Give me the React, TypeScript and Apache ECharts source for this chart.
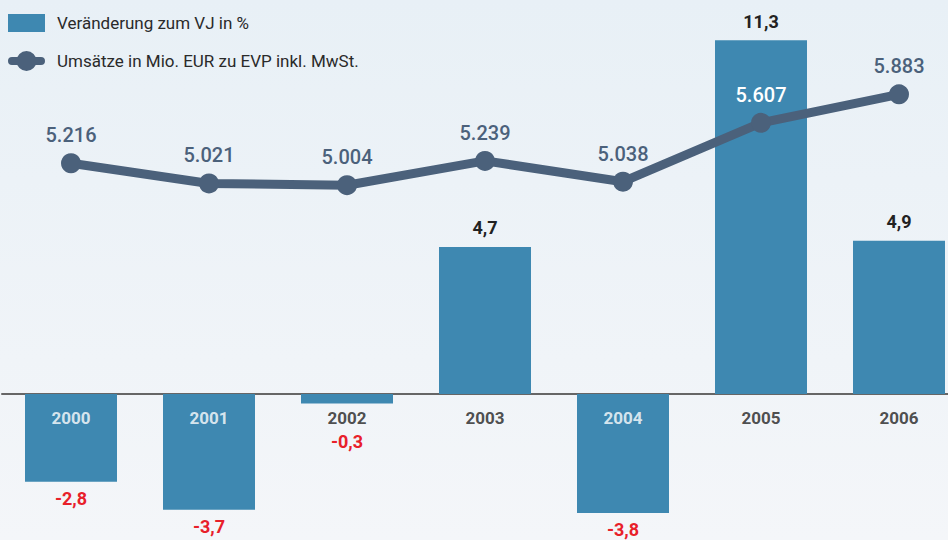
import React, { useEffect, useRef } from "react";
import * as echarts from "echarts";

const years = ["2000", "2001", "2002", "2003", "2004", "2005", "2006"];
const changePct = [-2.8, -3.7, -0.3, 4.7, -3.8, 11.3, 4.9];
const salesMio = [5216, 5021, 5004, 5239, 5038, 5607, 5883];
const barName = "Veränderung zum VJ in %";
const lineName = "Umsätze in Mio. EUR zu EVP inkl. MwSt.";

const BAR = "#3e88b1";
const LINE = "#4b617b";
const FONT = "Roboto";
const LINE_ICON =
  "path://M4,6 L33,6 A4,4 0 0 1 33,14 L4,14 A4,4 0 0 1 4,6 Z M18.5,0 A10,10 0 1 1 18.5,20 A10,10 0 1 1 18.5,0 Z";

export default function App() {
  const ref = useRef<HTMLDivElement>(null);
  useEffect(() => {
    document.body.style.margin = "0";
    const chart = echarts.init(ref.current!, null, { renderer: "svg" });
    const fmtPct = (v: number) => v.toFixed(1).replace(".", ",");
    const fmtSales = (v: number) => (v / 1000).toFixed(3);
    chart.setOption({
      animation: false,
      backgroundColor: new echarts.graphic.LinearGradient(0, 0, 0, 1, [
        { offset: 0, color: "#e8f0f6" },
        { offset: 1, color: "#f4f6f9" },
      ]),
      textStyle: { fontFamily: FONT },
      legend: {
        orient: "vertical",
        left: 3,
        top: 9,
        padding: 5,
        itemWidth: 37,
        itemHeight: 20,
        itemGap: 19,
        textStyle: { fontSize: 17, color: "#2a2a2a", fontFamily: FONT, padding: [0, 0, 0, 7] },
        data: [
          { name: barName, icon: "path://M0,1 L37,1 L37,19 L0,19 Z" },
          { name: lineName, icon: LINE_ICON },
        ],
      },
      grid: { left: 2, width: 966, top: 18.4, height: 500.8, outerBoundsMode: "none" },
      xAxis: {
        type: "category",
        data: years,
        axisLine: { onZero: true, lineStyle: { color: "#666", width: 2 } },
        axisTick: { show: false },
        axisLabel: { show: false },
      },
      yAxis: [
        { type: "value", min: -4, max: 12, show: false, splitLine: { show: false } },
        { type: "value", min: 1.774, max: 6.617, show: false, splitLine: { show: false } },
      ],
      series: [
        {
          name: barName,
          type: "bar",
          barWidth: 92,
          itemStyle: { color: BAR },
          data: changePct.map((v) => ({
            value: v,
            label: {
              show: true,
              position: v < 0 ? "bottom" : "top",
              distance: v < 0 ? (v > -1 ? 29 : 8) : 10,
              formatter: fmtPct(v),
              fontSize: 18,
              fontWeight: "bold",
              fontFamily: FONT,
              color: v < 0 ? "#e8202a" : "#222222",
            },
          })),
          z: 2,
        },
        {
          name: "years",
          type: "scatter",
          symbolSize: 0,
          silent: true,
          data: years.map((y, i) => ({
            value: 0,
            label: {
              show: true,
              position: "bottom",
              distance: 15,
              formatter: y,
              fontSize: 17,
              fontWeight: "bold",
              fontFamily: FONT,
              color: changePct[i] < -1 ? "#ffffff" : "#222222",
            },
          })),
          z: 4,
        },
        {
          name: lineName,
          type: "line",
          yAxisIndex: 1,
          symbol: "circle",
          symbolSize: 20,
          lineStyle: { color: LINE, width: 9 },
          itemStyle: { color: LINE },
          data: salesMio.map((v, i) => ({
            value: v / 1000,
            label: {
              show: true,
              position: "top",
              distance: 8,
              formatter: fmtSales(v),
              fontSize: 20,
              fontWeight: 500,
              fontFamily: FONT,
              color: i === 5 ? "#ffffff" : LINE,
            },
          })),
          z: 5,
        },
      ],
    });
    return () => chart.dispose();
  }, []);
  return <div ref={ref} style={{ width: 948, height: 540 }} />;
}
